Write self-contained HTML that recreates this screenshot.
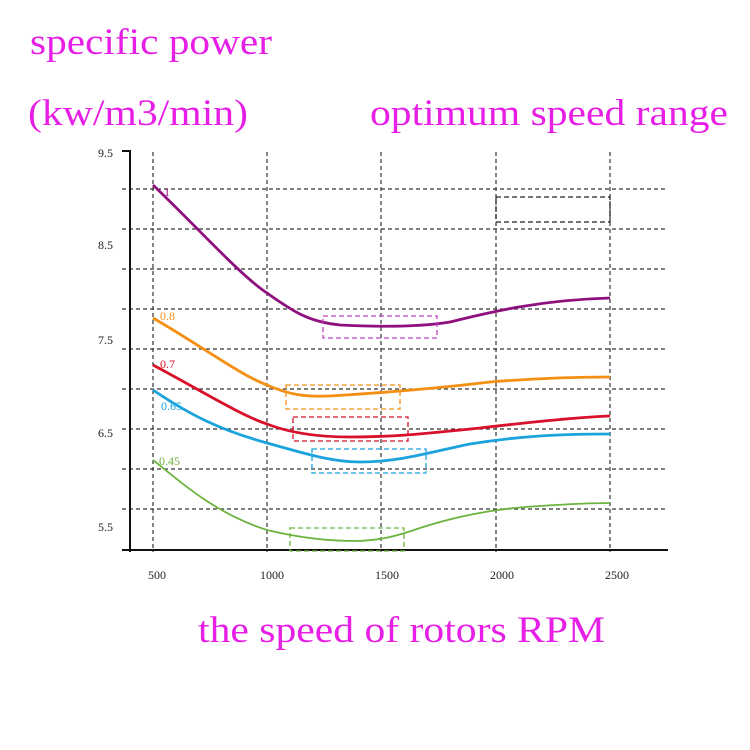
<!DOCTYPE html>
<html><head><style>
body{margin:0;width:750px;height:750px;background:#fff;overflow:hidden}
svg{position:absolute;left:0;top:0}
.t{font-family:"Liberation Serif",serif;fill:#e61ee6;font-size:37px}
.k{font-family:"Liberation Serif",serif;font-size:12px;fill:#222}
</style></head><body>
<svg width="750" height="750">
<text class="t" x="30" y="54" textLength="242" lengthAdjust="spacingAndGlyphs">specific power</text>
<text class="t" x="28" y="125" textLength="220" lengthAdjust="spacingAndGlyphs">(kw/m3/min)</text>
<text class="t" x="370" y="125" textLength="358" lengthAdjust="spacingAndGlyphs">optimum speed range</text>
<text class="t" x="198" y="642" textLength="407" lengthAdjust="spacingAndGlyphs">the speed of rotors RPM</text>
<g stroke="#333" stroke-width="1.2" stroke-dasharray="4,3" fill="none">
<path d="M122 189H668M122 229H668M122 269H668M122 309H668M122 349H668M122 389H668M122 429H668M122 469H668M122 509H668"/>
<path d="M153 152V552M267 152V552M381 152V552M496 152V552M610 152V552"/>
</g>
<path d="M130 150V552M122 550H668" stroke="#111" stroke-width="2" fill="none"/>
<path d="M122 151H131" stroke="#111" stroke-width="2"/>
<g class="k">
<text x="98" y="157">9.5</text><text x="98" y="249">8.5</text><text x="98" y="344">7.5</text><text x="98" y="437">6.5</text><text x="98" y="531">5.5</text>
<text x="148" y="579">500</text><text x="260" y="579">1000</text><text x="375" y="579">1500</text><text x="490" y="579">2000</text><text x="605" y="579">2500</text>
</g>
<g fill="none" stroke-width="2.8">
<path stroke="#8e0f7e" d="M153 185C200 230 240 275 267 293C295 313 310 322 340 325C380 327 420 327 450 322C490 312 540 300 610 298"/>
<path stroke="#f39014" d="M153 318C200 345 240 375 267 385C290 395 305 397 330 396C380 393 440 388 490 382C540 378 580 377 610 377"/>
<path stroke="#d8102a" d="M153 365C200 390 240 415 267 424C290 433 320 437 350 437C400 437 440 432 480 428C540 421 580 417 610 416"/>
<path stroke="#1ba3dc" d="M153 390C190 415 220 430 267 443C300 452 330 462 360 462C400 462 430 452 470 444C520 436 560 434 610 434"/>
<path stroke="#6db33f" stroke-width="1.8" d="M153 460C190 490 220 515 267 530C300 538 330 541 355 541C380 541 400 535 420 528C460 515 500 508 540 506C570 504 590 503 610 503"/>
</g>
<g fill="none" stroke-width="1.3" stroke-dasharray="5,3">
<rect x="323" y="316" width="114" height="22" stroke="#c040c0"/>
<rect x="286" y="385" width="114" height="24" stroke="#f39014"/>
<rect x="293" y="417" width="115" height="24" stroke="#d8102a"/>
<rect x="312" y="449" width="114" height="24" stroke="#1ba3dc"/>
<rect x="290" y="528" width="114" height="23" stroke="#6db33f"/>
<rect x="496" y="197" width="114" height="25" stroke="#222"/>
</g>
<g font-family="Liberation Serif,serif" font-size="12">
<text x="164" y="196" fill="#8e0f7e">1</text>
<text x="160" y="320" fill="#f39014">0.8</text>
<text x="160" y="368" fill="#d8102a">0.7</text>
<text x="161" y="410" fill="#1ba3dc">0.65</text>
<text x="159" y="465" fill="#6db33f">0.45</text>
</g>
</svg>
</body></html>
